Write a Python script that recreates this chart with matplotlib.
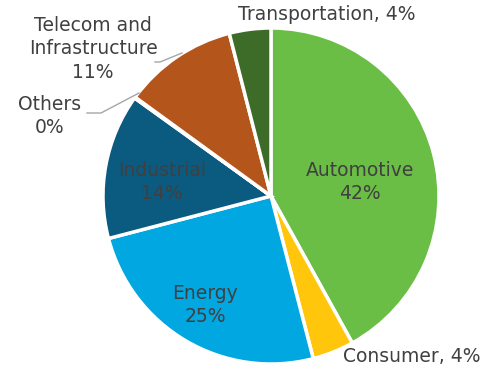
import matplotlib

matplotlib.use("Agg")
import matplotlib.pyplot as plt

sectors = ["Automotive", "Consumer", "Energy", "Industrial", "Others",
           "Telecom and\nInfrastructure", "Transportation"]
shares = [42, 4, 25, 14, 0.1, 11, 4]
colors = ["#6abd45", "#ffc60b", "#00a7e1", "#0b5a80", "#7f7f7f", "#b4561b", "#3d6c28"]

# label layout in pixels (center of text block), fmt: newline or comma separator
label_px = [(360, 182), (412, 356), (205, 305), (162, 182), (50, 116), (93, 49), (327, 14)]
label_sep = ["\n", ", ", "\n", "\n", "\n", "\n", ", "]
leaders = {4: [(87, 113), (101, 113), (139, 93)], 5: [(155, 62), (160, 62), (182, 53)]}

W, H = 495, 378
cx, cy, R = 271, 196, 168


def to_data(px, py):
    return (px - cx) / R, (cy - py) / R


fig = plt.figure(figsize=(W / 100, H / 100), dpi=100)
ax = fig.add_axes([0, 0, 1, 1])
ax.pie(shares, colors=colors, startangle=90, counterclock=False, radius=1,
       wedgeprops=dict(edgecolor="white", linewidth=2.5))
ax.set_xlim(-cx / R, (W - cx) / R)
ax.set_ylim(-(H - cy) / R, cy / R)
ax.set_aspect("equal")
ax.axis("off")

total = sum(shares)
for i, name in enumerate(sectors):
    pct = round(shares[i] / total * 100)
    x, y = to_data(*label_px[i])
    ax.text(x, y, f"{name}{label_sep[i]}{pct}%", ha="center", va="center",
            fontsize=13.5, color="#404040", linespacing=1.3, family="DejaVu Sans")

for pts in leaders.values():
    xs, ys = zip(*[to_data(*p) for p in pts])
    ax.plot(xs, ys, color="#a6a6a6", lw=1)

fig.savefig("out.png", dpi=100)
